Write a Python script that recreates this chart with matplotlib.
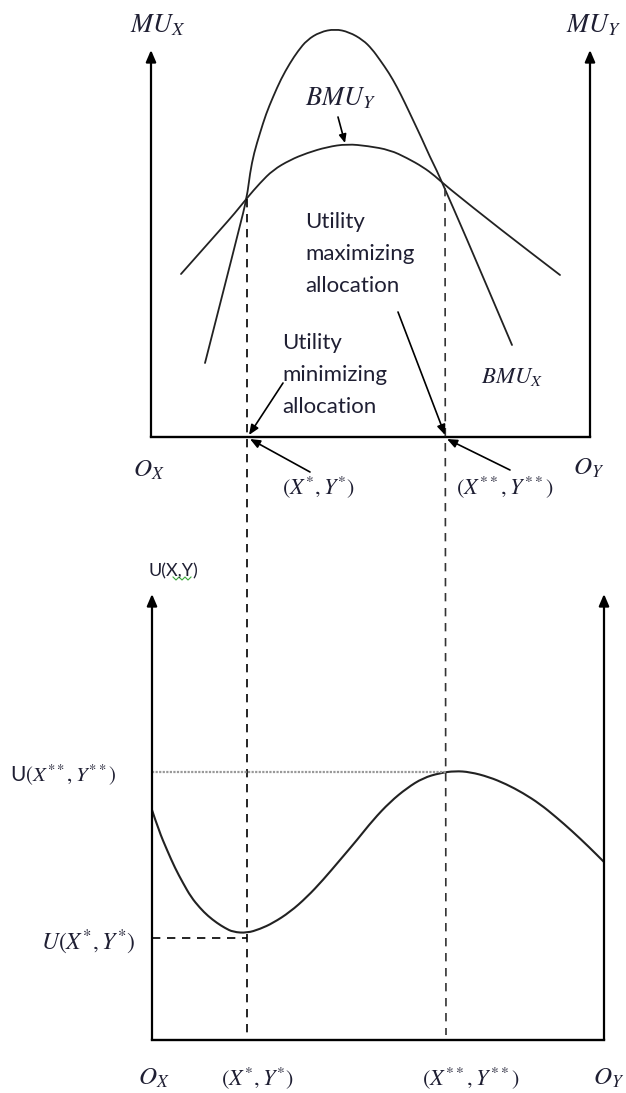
import matplotlib
matplotlib.use("Agg")
import matplotlib.pyplot as plt
from matplotlib.path import Path
from matplotlib.patches import PathPatch

plt.rcParams['mathtext.fontset'] = 'stix'

# ---------------- data (diagram pixel space) ----------------
# top panel: marginal utility curves
bmux_x = [205, 239, 247, 250, 254, 260, 266, 273, 281, 290, 298, 307, 320, 335, 349, 363, 372, 380, 389, 397,
          405, 413, 422, 430, 437, 444, 463, 512]
bmux_y = [363, 230, 197, 173, 153, 133, 114, 97, 79, 63, 51, 40, 32, 29, 32, 40, 49, 60, 73, 87,
          103, 120, 139, 157, 171, 187, 230, 345]
bmuy_x = [181, 220, 235, 247, 260, 273, 290, 307, 327, 347, 368, 390, 407, 423, 435, 446, 500, 560]
bmuy_y = [274, 230, 213, 198, 183, 170, 160, 153, 147, 144, 146, 150, 158, 167, 176, 186, 229, 275]
# bottom panel: utility curve
util_x = [152, 159, 167, 175, 183, 191, 200, 208, 217, 225, 233, 247, 260, 273, 290, 307, 323, 340, 357, 373,
          390, 407, 423, 440, 455, 470, 489, 506, 523, 540, 556, 572, 589, 604]
util_y = [810, 831, 850, 868, 883, 897, 908, 916, 923, 928, 932, 933, 929, 923, 912, 897, 880, 860, 840, 820,
          802, 788, 778, 773, 771, 772, 777, 784, 793, 804, 817, 831, 847, 862]
x_star, x_2star = 247, 446
u_star, u_2star = 938, 772

axis_labels_top = ["$MU_X$", "$MU_Y$"]
curve_labels = ["$BMU_Y$", "$BMU_X$"]
alloc_labels = ["$(X^{*},Y^{*})$", "$(X^{**},Y^{**})$"]
origin_labels = ["$O_X$", "$O_Y$"]
note_max = "Utility\nmaximizing\nallocation"
note_min = "Utility\nminimizing\nallocation"
u_labels = ["U$(X^{**},Y^{**})$", "$U(X^{*},Y^{*})$", "U(X,Y)"]

# ---------------- figure ----------------
W, H = 626, 1093
fig = plt.figure(figsize=(W / 100, H / 100), dpi=100)
ax = fig.add_axes([0, 0, 1, 1])
ax.set_xlim(0, W)
ax.set_ylim(H, 0)
ax.axis('off')

K = 'black'
TXT = '#1f1f33'
SANS = ['Lato', 'DejaVu Sans']


def smooth_curve(xs, ys, lw, color='#222'):
    """Draw a smooth curve using the read points as quadratic Bezier controls."""
    verts = [(xs[0], ys[0])]
    codes = [Path.MOVETO]
    n = len(xs)
    for i in range(1, n - 1):
        verts.append((xs[i], ys[i]))
        verts.append(((xs[i] + xs[i + 1]) / 2, (ys[i] + ys[i + 1]) / 2))
        codes += [Path.CURVE3, Path.CURVE3]
    verts.append((xs[-1], ys[-1]))
    codes.append(Path.LINETO)
    ax.add_patch(PathPatch(Path(verts, codes), fill=False, lw=lw, edgecolor=color, capstyle='round'))


def axis_arrow(x, y0, y1):
    ax.annotate('', xy=(x, y1), xytext=(x, y0),
                arrowprops=dict(arrowstyle='-|>,head_length=0.7,head_width=0.3', lw=1.6, color=K,
                                shrinkA=0, shrinkB=0))

# ---- top panel axes ----
top_base, top_tip = 437, 50
L, R = 151, 590
ax.plot([L, R], [top_base, top_base], color=K, lw=1.7, solid_capstyle='projecting')
axis_arrow(L, top_base, top_tip)
axis_arrow(R, top_base, top_tip)

smooth_curve(bmux_x, bmux_y, 1.3)
smooth_curve(bmuy_x, bmuy_y, 1.3)

# ---- bottom panel axes ----
bot_base, bot_tip = 1040, 594
L2, R2 = 152, 604
ax.plot([L2, R2], [bot_base, bot_base], color=K, lw=1.7, solid_capstyle='projecting')
axis_arrow(L2, bot_base, bot_tip)
axis_arrow(R2, bot_base, bot_tip)
smooth_curve(util_x, util_y, 1.5)

# ---- dashed guides ----
dash = (0, (5, 4))
ax.plot([x_star, x_star], [199, 1035], color=K, lw=1.2, ls=dash)
ax.plot([x_2star - 1, x_2star], [188, 1035], color='#333', lw=1.2, ls=dash)
ax.plot([L2, x_star], [u_star, u_star], color=K, lw=1.2, ls=dash)
ax.plot([L2, x_2star], [u_2star, u_2star], color='#999', lw=1.6, ls=(0, (1, 0.6)))

# ---- labels ----
ax.text(158, 25, axis_labels_top[0], fontsize=19, color=TXT, ha='center', va='center')
ax.text(594, 25, axis_labels_top[1], fontsize=19, color=TXT, ha='center', va='center')
ax.text(341, 98, curve_labels[0], fontsize=19, color=TXT, ha='center', va='center')
ax.text(512, 377, curve_labels[1], fontsize=16.5, color=TXT, ha='center', va='center')
ax.annotate('', xy=(345, 143), xytext=(338, 117),
            arrowprops=dict(arrowstyle='-|>,head_length=0.5,head_width=0.22', lw=1.2, color=K,
                            shrinkA=0, shrinkB=0))

ax.text(305, 254, note_max, fontsize=16, color=TXT, ha='left', va='center', family=SANS, linespacing=1.72)
ax.text(282, 375, note_min, fontsize=16, color=TXT, ha='left', va='center', family=SANS, linespacing=1.72)

arrow_kw = dict(arrowstyle='-|>,head_length=0.6,head_width=0.25', lw=1.2, color=K, shrinkA=0, shrinkB=0)
ax.annotate('', xy=(249, 435), xytext=(283, 383), arrowprops=arrow_kw)
ax.annotate('', xy=(445, 435), xytext=(398, 312), arrowprops=arrow_kw)
ax.annotate('', xy=(250, 439), xytext=(310, 472), arrowprops=arrow_kw)
ax.annotate('', xy=(447, 439), xytext=(510, 470), arrowprops=arrow_kw)

ax.text(149, 470, origin_labels[0], fontsize=18, color=TXT, ha='center', va='center')
ax.text(589, 468, origin_labels[1], fontsize=18, color=TXT, ha='center', va='center')
ax.text(318, 487, alloc_labels[0], fontsize=16, color=TXT, ha='center', va='center')
ax.text(505, 487, alloc_labels[1], fontsize=16, color=TXT, ha='center', va='center')

# bottom labels
ax.text(148, 571, u_labels[2], fontsize=13, color=TXT, ha='left', va='center', family=SANS)
ax.plot([173, 176, 179, 182, 185, 188, 191], [577, 580, 577, 580, 577, 580, 577], color='#3aa63a', lw=0.8)
ax.text(10, 775, u_labels[0], fontsize=15, color=TXT, ha='left', va='center', family=SANS)
ax.text(135, 942, u_labels[1], fontsize=17, color=TXT, ha='right', va='center')

ax.text(154, 1078, origin_labels[0], fontsize=18, color=TXT, ha='center', va='center')
ax.text(257, 1078, alloc_labels[0], fontsize=16, color=TXT, ha='center', va='center')
ax.text(471, 1078, alloc_labels[1], fontsize=16, color=TXT, ha='center', va='center')
ax.text(609, 1078, origin_labels[1], fontsize=18, color=TXT, ha='center', va='center')

fig.savefig('out.png', dpi=100)
